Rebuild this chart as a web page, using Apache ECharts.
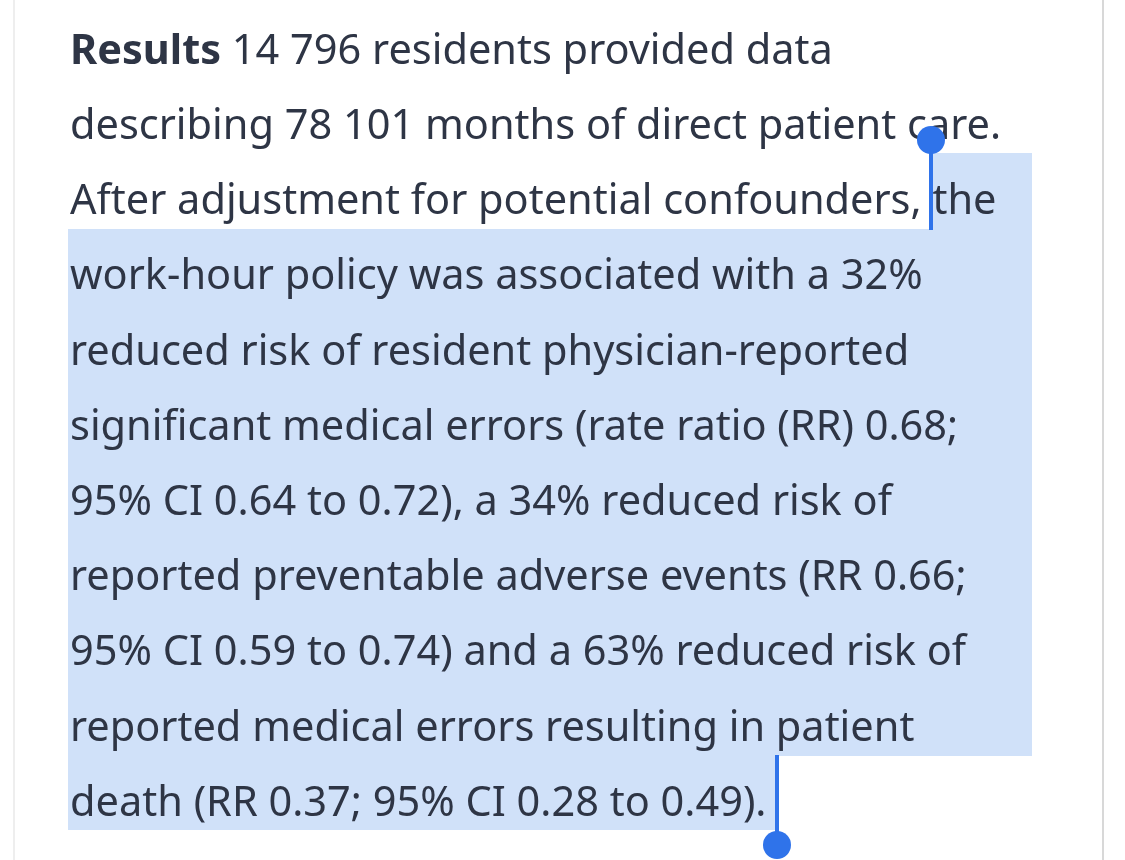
<!DOCTYPE html>
<html><head><meta charset="utf-8">
<script src="https://cdn.jsdelivr.net/npm/echarts@6/dist/echarts.min.js"></script>
<style>html,body{margin:0;background:#fff}#c{width:1125px;height:860px}</style>
</head><body><div id="c"></div>
<script>
const leadWord = "Results";
const lines = [
  " 14 796 residents provided data",
  "describing 78 101 months of direct patient care.",
  "After adjustment for potential confounders, the",
  "work-hour policy was associated with a 32%",
  "reduced risk of resident physician-reported",
  "significant medical errors (rate ratio (RR) 0.68;",
  "95% CI 0.64 to 0.72), a 34% reduced risk of",
  "reported preventable adverse events (RR 0.66;",
  "95% CI 0.59 to 0.74) and a 63% reduced risk of",
  "reported medical errors resulting in patient",
  "death (RR 0.37; 95% CI 0.28 to 0.49)."
];
const chart = echarts.init(document.getElementById('c'));
const x0 = 70, lh = 75.2, y0 = 52, fs = 41.5;
const hl = '#d0e1f9', blue = '#2f73ea', ink = '#2e3545';
const g = [];
g.push({type:'line', shape:{x1:1103,y1:0,x2:1103,y2:860}, style:{stroke:'#d8d8d8',lineWidth:2}});
g.push({type:'line', shape:{x1:14,y1:0,x2:14,y2:860}, style:{stroke:'#eeeeee',lineWidth:2}});
g.push({type:'rect', shape:{x:930,y:153,width:102,height:77}, style:{fill:hl}});
g.push({type:'rect', shape:{x:68,y:229,width:964,height:527}, style:{fill:hl}});
g.push({type:'rect', shape:{x:68,y:755,width:709,height:75}, style:{fill:hl}});
lines.forEach((t,i)=>{
  const y = y0 + i*lh;
  g.push({type:'text', x:x0, y:y, style:{
    text: i===0 ? '{b|'+leadWord+'}'+t : t,
    font: fs+'px "Noto Sans"', fill: ink, textVerticalAlign:'middle',
    rich:{b:{fontWeight:'bold',fontSize:fs,fontFamily:'Noto Sans',fill:ink}}
  }});
});
g.push({type:'rect', shape:{x:929,y:140,width:4,height:90}, style:{fill:blue}});
g.push({type:'circle', shape:{cx:931,cy:140,r:14}, style:{fill:blue}});
g.push({type:'rect', shape:{x:775,y:755,width:4,height:90}, style:{fill:blue}});
g.push({type:'circle', shape:{cx:777,cy:845,r:14}, style:{fill:blue}});
chart.setOption({animation:false, graphic:g});
</script></body></html>
